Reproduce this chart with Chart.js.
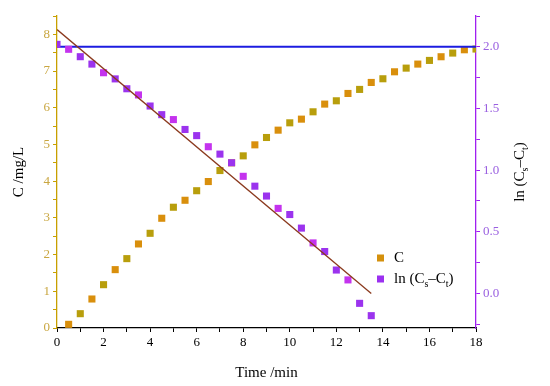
<!DOCTYPE html>
<html>
<head>
<meta charset="utf-8">
<script src="https://cdn.jsdelivr.net/npm/chart.js@4.4.0/dist/chart.umd.min.js"></script>
<style>
  html, body { margin: 0; padding: 0; background: #fff; }
</style>
</head>
<body>
<canvas id="chart" width="550" height="386"></canvas>
<script>
// concentration C (mg/L) vs time (min)
const timeC = [0.5, 1, 1.5, 2, 2.5, 3, 3.5, 4, 4.5, 5, 5.5, 6, 6.5, 7, 7.5, 8, 8.5, 9,
               9.5, 10, 10.5, 11, 11.5, 12, 12.5, 13, 13.5, 14, 14.5, 15, 15.5, 16, 16.5, 17, 17.5, 18];
const concC = [0.10, 0.39, 0.79, 1.18, 1.59, 1.89, 2.29, 2.58, 2.99, 3.29, 3.48, 3.74, 3.99, 4.29, 4.50, 4.69, 4.99, 5.19,
               5.39, 5.59, 5.69, 5.89, 6.10, 6.19, 6.39, 6.50, 6.69, 6.79, 6.98, 7.08, 7.19, 7.29, 7.39, 7.49, 7.58, 7.60];

// ln(Cs - Ct) vs time (min)
const timeLn = [0, 0.5, 1, 1.5, 2, 2.5, 3, 3.5, 4, 4.5, 5, 5.5, 6, 6.5, 7,
                7.5, 8, 8.5, 9, 9.5, 10, 10.5, 11, 11.5, 12, 12.5, 13, 13.5];
const lnValues = [2.02, 1.98, 1.92, 1.86, 1.79, 1.74, 1.66, 1.61, 1.52, 1.45, 1.41, 1.33, 1.28, 1.19, 1.13,
                  1.06, 0.95, 0.87, 0.79, 0.69, 0.64, 0.53, 0.41, 0.34, 0.19, 0.11, -0.08, -0.18];

// linear fit of ln(Cs - Ct)
const fitTime = [0, 13.5];
const fitValues = [2.14, 0.0];

// ln(Cs) reference line
const refTime = [0, 18];
const refValues = [2.0, 2.0];

const serif = "'Liberation Serif', 'Times New Roman', serif";

function toPoints(xs, ys) {
    return xs.map((x, i) => ({ x: x, y: ys[i] }));
}

// draw a string made of normal and subscript pieces
function drawParts(ctx, parts, x, y, size, align) {
    const subSize = Math.round(size * 0.65);
    let total = 0;
    parts.forEach(p => {
        ctx.font = (p[1] ? subSize : size) + 'px ' + serif;
        total += ctx.measureText(p[0]).width;
    });
    let cx = align === 'center' ? x - total / 2 : x;
    ctx.textBaseline = 'middle';
    ctx.textAlign = 'left';
    parts.forEach(p => {
        ctx.font = (p[1] ? subSize : size) + 'px ' + serif;
        ctx.fillText(p[0], cx, p[1] ? y + size * 0.35 : y);
        cx += ctx.measureText(p[0]).width;
    });
}

const lnLabel = [['ln (C', 0], ['s', 1], ['\u2013C', 0], ['t', 1], [')', 0]];

const extras = {
    id: 'extras',
    afterDraw(chart) {
        const ctx = chart.ctx;
        const area = chart.chartArea;

        // right axis title
        ctx.save();
        ctx.fillStyle = '#000';
        ctx.translate(520, (area.top + area.bottom) / 2);
        ctx.rotate(-Math.PI / 2);
        drawParts(ctx, lnLabel, 0, 0, 15, 'center');
        ctx.restore();

        // legend
        ctx.save();
        ctx.fillStyle = '#d4900c';
        ctx.fillRect(377, 254.5, 7, 7);
        ctx.fillStyle = '#9b30f0';
        ctx.fillRect(377, 275.5, 7, 7);
        ctx.fillStyle = '#000';
        drawParts(ctx, [['C', 0]], 394, 258, 15, 'left');
        drawParts(ctx, lnLabel, 394, 279, 15, 'left');
        ctx.restore();
    }
};

const ctx = document.getElementById('chart').getContext('2d');
new Chart(ctx, {
    type: 'scatter',
    data: {
        datasets: [
            {
                label: 'fit',
                type: 'line',
                data: toPoints(fitTime, fitValues),
                yAxisID: 'y1',
                borderColor: '#8b3a1e',
                borderWidth: 1.3,
                pointRadius: 0,
                order: 0
            },
            {
                label: 'ln (Cs-Ct)',
                data: toPoints(timeLn, lnValues),
                yAxisID: 'y1',
                pointStyle: 'rect',
                pointRadius: 5,
                pointHoverRadius: 5,
                borderWidth: 0,
                pointBackgroundColor: timeLn.map((t, i) => i % 3 === 1 ? '#c433ee' : '#9b33ee'),
                clip: 0,
                order: 1
            },
            {
                label: 'Cs',
                type: 'line',
                data: toPoints(refTime, refValues),
                yAxisID: 'y1',
                borderColor: '#1c1ce0',
                borderWidth: 2,
                pointRadius: 0,
                order: 2
            },
            {
                label: 'C',
                data: toPoints(timeC, concC),
                yAxisID: 'y',
                pointStyle: 'rect',
                pointRadius: 5,
                pointHoverRadius: 5,
                borderWidth: 0,
                pointBackgroundColor: timeC.map((t, i) => i % 2 === 0 ? '#d98f0c' : '#b89e0c'),
                clip: 0,
                order: 3
            }
        ]
    },
    options: {
        responsive: false,
        animation: false,
        layout: { padding: { top: 16, left: 6, right: 0, bottom: 0 } },
        plugins: {
            legend: { display: false },
            tooltip: { enabled: false }
        },
        scales: {
            x: {
                type: 'linear',
                position: 'bottom',
                min: 0,
                max: 18,
                afterFit: s => { s.height = 58; },
                border: { color: '#000', width: 1.3 },
                grid: { drawOnChartArea: false, color: '#000', tickLength: 4, lineWidth: 1 },
                ticks: {
                    stepSize: 1,
                    autoSkip: false,
                    maxRotation: 0,
                    color: '#000',
                    padding: 3,
                    font: { family: serif, size: 13 },
                    callback: v => (v % 2 === 0 ? v : '')
                },
                title: {
                    display: true,
                    text: 'Time /min',
                    color: '#000',
                    padding: { top: 4 },
                    font: { family: serif, size: 15 }
                }
            },
            y: {
                position: 'left',
                min: 0,
                max: 8.5,
                afterFit: s => { s.width = 51; },
                border: { color: '#c8a000', width: 1.3 },
                grid: { drawOnChartArea: false, color: '#c8a000', tickLength: 4 },
                ticks: {
                    stepSize: 0.5,
                    autoSkip: false,
                    color: '#c9a640',
                    padding: 3,
                    font: { family: serif, size: 13 },
                    callback: v => (Number.isInteger(v) ? v : '')
                },
                title: {
                    display: true,
                    text: 'C /mg/L',
                    color: '#000',
                    padding: { bottom: 6 },
                    font: { family: serif, size: 15 }
                }
            },
            y1: {
                position: 'right',
                min: -0.28,
                max: 2.25,
                afterFit: s => { s.width = 74; },
                border: { color: '#a020f0', width: 1.3 },
                grid: { drawOnChartArea: false, color: '#a020f0', tickLength: 4 },
                ticks: {
                    stepSize: 0.25,
                    includeBounds: false,
                    autoSkip: false,
                    color: '#9a60e0',
                    padding: 3,
                    font: { family: serif, size: 13 },
                    callback: v => (Math.abs(v * 2 - Math.round(v * 2)) < 1e-6 ? v.toFixed(1) : '')
                }
            }
        }
    },
    plugins: [extras]
});
</script>
</body>
</html>
